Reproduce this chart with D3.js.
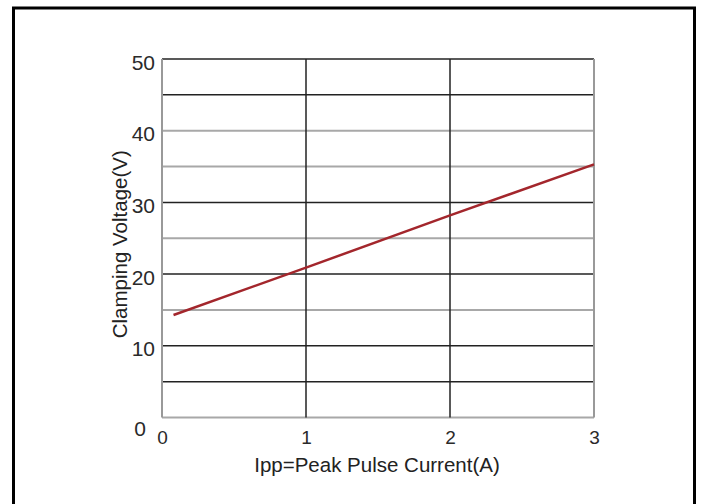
<!DOCTYPE html>
<html>
<head>
<meta charset="utf-8">
<script src="https://cdn.jsdelivr.net/npm/d3@7"></script>
<style>
  html, body { margin: 0; padding: 0; background: #fff; }
  svg { display: block; font-family: "Liberation Sans", Arial, sans-serif; }
</style>
</head>
<body>
<svg id="chart"></svg>
<script>
const WIDTH = 702;
const HEIGHT = 504;
const PLOT = { left: 162, right: 594, top: 59, bottom: 417.5 };

// data
const currentA = [0.08, 1, 2, 3];
const clampV = [14.3, 20.9, 28.2, 35.3];
const xTicks = [0, 1, 2, 3];
const yTicks = [0, 10, 20, 30, 40, 50];
const yGridVals = [0, 5, 10, 15, 20, 25, 30, 35, 40, 45, 50];
const xTitle = "Ipp=Peak Pulse Current(A)";
const yTitle = "Clamping Voltage(V)";

// lines that look washed out in the scan
const lightY = [0, 15, 25, 35, 40];
const lightX = [0, 3];

const svg = d3.select("#chart").attr("width", WIDTH).attr("height", HEIGHT);

const x = d3.scaleLinear().domain([0, 3]).range([PLOT.left, PLOT.right]);
const y = d3.scaleLinear().domain([0, 50]).range([PLOT.bottom, PLOT.top]);

// outer frame (bottom edge runs off the page)
svg.append("rect")
   .attr("x", 13.5).attr("y", 8)
   .attr("width", 681).attr("height", 520)
   .attr("fill", "none").attr("stroke", "#000").attr("stroke-width", 3);

// horizontal grid
svg.append("g").selectAll("line")
   .data(yGridVals)
   .join("line")
   .attr("x1", PLOT.left).attr("x2", PLOT.right)
   .attr("y1", d => y(d)).attr("y2", d => y(d))
   .attr("stroke", d => lightY.includes(d) ? "#a8a8a8" : "#222")
   .attr("stroke-width", d => lightY.includes(d) ? 2 : 1.5);

// vertical grid
svg.append("g").selectAll("line")
   .data(xTicks)
   .join("line")
   .attr("y1", PLOT.top).attr("y2", PLOT.bottom)
   .attr("x1", d => x(d)).attr("x2", d => x(d))
   .attr("stroke", d => lightX.includes(d) ? "#999" : "#222")
   .attr("stroke-width", d => lightX.includes(d) ? 2 : 1.5);

// axes: labels only
const gx = svg.append("g")
   .attr("transform", `translate(0,${PLOT.bottom})`)
   .call(d3.axisBottom(x).tickValues(xTicks).tickSize(0).tickFormat(d3.format("d")));
gx.select(".domain").remove();
gx.selectAll("text")
   .attr("dy", "1.25em")
   .attr("font-size", 19)
   .attr("fill", "#2a2a2a")
   .attr("font-family", "Liberation Sans, Arial, sans-serif");

const gy = svg.append("g")
   .attr("transform", `translate(${PLOT.left},0)`)
   .call(d3.axisLeft(y).tickValues(yTicks).tickSize(0).tickPadding(7).tickFormat(d3.format("d")));
gy.select(".domain").remove();
gy.selectAll("text")
   .attr("dy", d => d === 0 ? "0.85em" : "0.48em")
   .attr("dx", d => d === 0 ? -9 : 0)
   .attr("font-size", 21)
   .attr("fill", "#2a2a2a")
   .attr("font-family", "Liberation Sans, Arial, sans-serif");

// the curve
const line = d3.line()
   .x(d => x(d[0]))
   .y(d => y(d[1]));

svg.append("path")
   .datum(d3.zip(currentA, clampV))
   .attr("d", line)
   .attr("fill", "none")
   .attr("stroke", "#a3262c")
   .attr("stroke-width", 2.5);

// titles
svg.append("text")
   .attr("x", (PLOT.left + PLOT.right) / 2 - 1)
   .attr("y", PLOT.bottom + 54)
   .attr("text-anchor", "middle")
   .attr("font-size", 20.5)
   .attr("fill", "#222")
   .text(xTitle);

svg.append("text")
   .attr("transform", `translate(127,${(PLOT.top + PLOT.bottom) / 2 + 6}) rotate(-90)`)
   .attr("text-anchor", "middle")
   .attr("font-size", 20.5)
   .attr("fill", "#222")
   .text(yTitle);
</script>
</body>
</html>
